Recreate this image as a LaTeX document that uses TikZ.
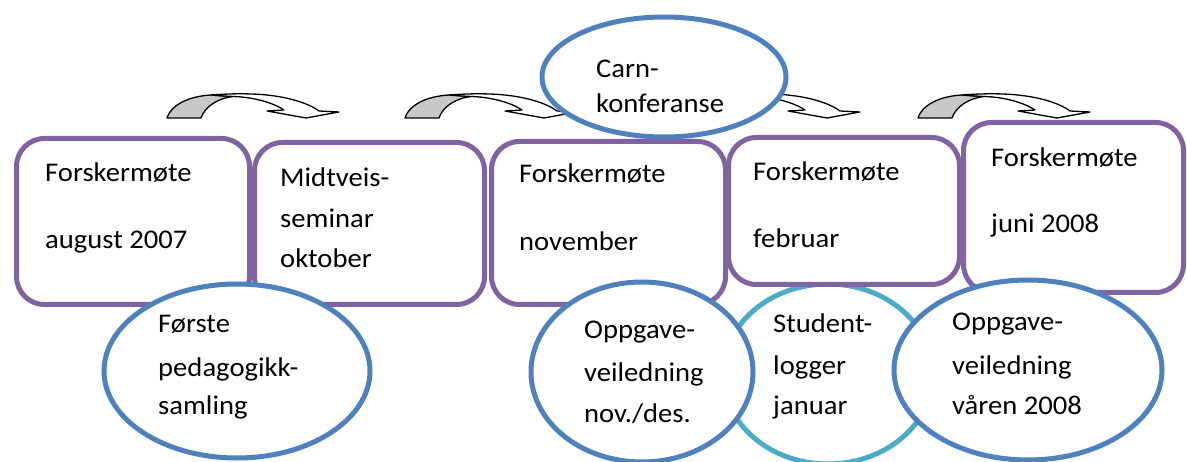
\documentclass[tikz,border=0pt]{standalone}
\usepackage{fontspec}
\setmainfont{Carlito}[FakeStretch=1.06]
\usetikzlibrary{shapes.geometric}
\definecolor{boxpurple}{HTML}{8064A2}
\definecolor{ellblue}{HTML}{4F81BD}
\definecolor{ellteal}{HTML}{4BACC6}
\definecolor{arrowgray}{HTML}{C8C8C8}
\newcommand\curvedblockarrow[1]{%
  \begin{scope}[shift={(#1,118)}]
    \filldraw[arrowpart, fill=arrowgray]
      (0,0) .. controls (5,-15) and (25,-22) .. (44,-23)
      .. controls (50,-22.5) and (57,-22) .. (66,-21.5)
      .. controls (52,-20) and (38,-12) .. (34,0) -- cycle;
    \filldraw[arrowpart, fill=white]
      (44,-23) .. controls (58,-24) and (70,-24.5) .. (85,-24)
      .. controls (115,-23) and (140,-16) .. (152,-7)
      -- (172,-6) -- (139,0) -- (100,-7) -- (117,-8)
      .. controls (105,-16) and (85,-21) .. (66,-21.5)
      .. controls (57,-22) and (50,-22.5) .. (44,-23) -- cycle;
  \end{scope}}
\begin{document}
\begin{tikzpicture}[x=1pt,y=-1pt,
  box/.style={draw=boxpurple, line width=5pt, rounded corners=28pt, fill=white,
    inner sep=0pt, anchor=north west},
  oval/.style={ellipse, draw=ellblue, line width=5pt, fill=white, inner sep=0pt},
  lbl/.style={anchor=base west, inner sep=0pt, font=\fontsize{27}{38}\selectfont},
  arrowpart/.style={draw=black, line width=1.3pt, line join=round}]
\useasboundingbox (0,0) rectangle (1187,462);

% rounded boxes
\node[box, minimum width=233pt, minimum height=166pt] (b1) at (14,136) {};
\node[box, minimum width=230pt, minimum height=162pt] (b2) at (252,140) {};
\node[box, minimum width=234pt, minimum height=163pt] (b3) at (489,139) {};
\node[oval, draw=ellteal, minimum width=210pt, minimum height=180pt] (e4) at (828,374) {};
\node[box, minimum width=231pt, minimum height=147pt] (b4) at (726,135) {};
\node[box, minimum width=220pt, minimum height=170pt] (b5) at (961,120) {};

% ellipses
\node[oval, minimum width=266pt, minimum height=174pt] (e1) at (237,371) {};
\node[oval, minimum width=222pt, minimum height=180pt] (e3) at (642,372) {};
\node[oval, minimum width=268pt, minimum height=180pt] (e5) at (1028,370) {};

% curved block arrows
\curvedblockarrow{167}
\curvedblockarrow{405}
\curvedblockarrow{688}
\curvedblockarrow{918}

\node[oval, minimum width=244pt, minimum height=120pt] (e2) at (664,77) {};

% texts
\node[lbl] (t1a) at (45,182) {Forskermøte};
\node[lbl] (t1b) at (45,249) {august 2007};
\node[lbl] (t2a) at (280,187) {Midtveis-};
\node[lbl] (t2b) at (280,228) {seminar};
\node[lbl] (t2c) at (280,268) {oktober};
\node[lbl] (t3a) at (519,183) {Forskermøte};
\node[lbl] (t3b) at (519,251) {november};
\node[lbl] (t4a) at (753,181) {Forskermøte};
\node[lbl] (t4b) at (753,248) {februar};
\node[lbl] (t5a) at (991,167) {Forskermøte};
\node[lbl] (t5b) at (991,233) {juni 2008};
\node[lbl] (c1) at (596,78) {Carn-};
\node[lbl] (c2) at (596,113) {konferanse};
\node[lbl] (p1) at (158,333) {Første};
\node[lbl] (p2) at (158,377) {pedagogikk-};
\node[lbl] (p3) at (158,415) {samling};
\node[lbl] (o1) at (584,339) {Oppgave-};
\node[lbl] (o2) at (584,382) {veiledning};
\node[lbl] (o3) at (584,423) {nov./des.};
\node[lbl] (s1) at (773,333) {Student-};
\node[lbl] (s2) at (773,375) {logger};
\node[lbl] (s3) at (773,415) {januar};
\node[lbl] (v1) at (952,331) {Oppgave-};
\node[lbl] (v2) at (952,375) {veiledning};
\node[lbl] (v3) at (952,415) {våren 2008};
\end{tikzpicture}
\end{document}
